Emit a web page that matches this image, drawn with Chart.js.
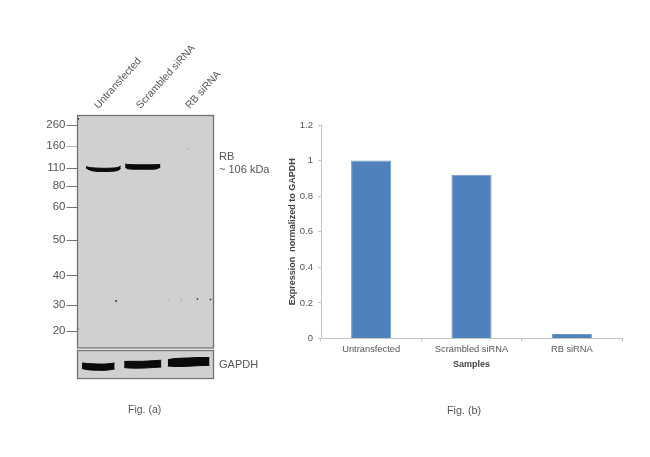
<!DOCTYPE html>
<html>
<head>
<meta charset="utf-8">
<script src="https://cdn.jsdelivr.net/npm/chart.js@4/dist/chart.umd.min.js"></script>
<style>
html,body{margin:0;padding:0;background:#fff;width:650px;height:457px;overflow:hidden;font-family:"Liberation Sans",Arial,sans-serif}
canvas{position:absolute;display:block;filter:blur(0.35px)}
.t{position:absolute;color:#555;white-space:nowrap;line-height:1;filter:blur(0.2px)}
</style>
</head>
<body>
<canvas id="blot" style="left:0;top:0;width:262px;height:352px" width="262" height="352"></canvas>
<canvas id="gapdh" style="left:0;top:349px;width:262px;height:32px" width="262" height="32"></canvas>
<canvas id="bars" style="left:270px;top:100px;width:380px;height:290px" width="380" height="290"></canvas>
<div class="t" style="left:219px;top:151px;font-size:11px">RB</div>
<div class="t" style="left:219px;top:164px;font-size:11px">~ 106 kDa</div>
<div class="t" style="left:219px;top:359px;font-size:11px">GAPDH</div>
<div class="t" style="left:128px;top:404px;font-size:10.5px">Fig. (a)</div>
<div class="t" style="left:447px;top:405px;font-size:10.8px">Fig. (b)</div>
<script>
// Bar chart data
const categories = ["Untransfected", "Scrambled siRNA", "RB siRNA"];
const expression = [1, 0.92, 0.025];

// Blot data: lane position and migration distance (both in the panel's own units)
const laneLabels = ["Untransfected", "Scrambled siRNA", "RB siRNA"];
const laneTicks = [28, 70, 119];
const mwLabels = ["260", "160", "110", "80", "60", "50", "40", "30", "20"];
const mwMigration = [9.5, 30.5, 52.5, 70.5, 91.5, 124.5, 160, 189.5, 215.5];

// RB bands: lane offset, upper edge, lower edge
const rb1X = [8.5, 12, 18, 26, 34, 40, 43];
const rb1Top = [51, 52, 52.5, 52.8, 52.6, 52, 50.5];
const rb1Bot = [52.5, 54.5, 55.8, 56, 55.8, 55, 53];
const rb2X = [47.5, 50, 60, 70, 78, 82.5];
const rb2Top = [48.5, 49, 49.3, 49.3, 49.2, 49];
const rb2Bot = [51.5, 53.3, 53.7, 53.7, 53.5, 51.8];

// Faint and dark specks on the RB membrane
const speckX = [0.8, 38.5, 90.5, 103.5, 119.5, 132.5, 110.5, 0.8];
const speckY = [3.5, 185.5, 184.5, 184, 183.5, 184, 33.5, 213.5];
const speckAlpha = [0.9, 0.9, 0.12, 0.15, 0.7, 0.75, 0.15, 0.25];

// GAPDH bands
const g1X = [4.5, 10, 20, 28, 37];
const g1Top = [12.5, 13, 13.5, 13.5, 12.5];
const g1Bot = [18, 19.2, 19.8, 19.8, 18.5];
const g2X = [46.5, 52, 65, 75, 83.5];
const g2Top = [11, 10.8, 10.8, 10.2, 9.7];
const g2Bot = [17, 17.6, 17.6, 17, 16.5];
const g3X = [90, 97, 110, 120, 131.5];
const g3Top = [9.2, 8, 7.5, 7, 7.2];
const g3Bot = [15.5, 16, 15.8, 15.2, 14.8];

const FONT = '"Liberation Sans", Arial, sans-serif';
const TEXT = '#555';

const panelPlugin = {
  id: 'panel',
  beforeDatasetsDraw(c) {
    const a = c.chartArea, x = c.ctx;
    x.save();
    x.fillStyle = '#d0d0d0';
    x.fillRect(a.left, a.top, a.width, a.height);
    x.restore();
  },
  afterDatasetsDraw(c) {
    const a = c.chartArea, x = c.ctx;
    x.save();
    x.strokeStyle = '#727272';
    x.lineWidth = 1.3;
    x.strokeRect(a.left, a.top, a.width, a.height);
    x.restore();
  }
};

function band(xs, top, bot) {
  const toPts = ys => xs.map((v, i) => ({x: v, y: ys[i]}));
  const common = {showLine: true, borderColor: '#0a0a0a', backgroundColor: '#0a0a0a',
                  borderWidth: 1, pointRadius: 0, tension: 0.35};
  return [
    Object.assign({data: toPts(top), fill: '+1'}, common),
    Object.assign({data: toPts(bot), fill: false}, common)
  ];
}
const noPad = s => { s.paddingTop = 0; s.paddingBottom = 0; s.paddingLeft = 0; s.paddingRight = 0; };

new Chart(document.getElementById('blot'), {
  type: 'scatter',
  data: {datasets: [
    ...band(rb1X, rb1Top, rb1Bot),
    ...band(rb2X, rb2Top, rb2Bot),
    {data: speckX.map((v, i) => ({x: v, y: speckY[i]})), pointRadius: 0.9, borderWidth: 0,
     pointBackgroundColor: speckAlpha.map(al => `rgba(20,20,20,${al})`)}
  ]},
  options: {
    responsive: false, animation: false, events: [],
    layout: {padding: {left: 0, right: 48.5, top: 0, bottom: 1.5}},
    plugins: {legend: {display: false}, tooltip: {enabled: false}},
    scales: {
      x: {
        type: 'linear', position: 'top', min: 0, max: 135.5,
        afterBuildTicks: s => { s.ticks = laneTicks.map(v => ({value: v})); },
        afterFit: s => { s.height = 115.5; noPad(s); },
        border: {display: false},
        grid: {display: false, drawTicks: false},
        ticks: {autoSkip: false, minRotation: 48, maxRotation: 48, padding: 4,
                color: TEXT, font: {family: FONT, size: 10.4},
                callback: v => laneLabels[laneTicks.indexOf(v)]}
      },
      y: {
        type: 'linear', reverse: true, min: 0, max: 232.5,
        afterBuildTicks: s => { s.ticks = mwMigration.map(v => ({value: v})); },
        afterFit: s => { s.width = 77.5; noPad(s); },
        border: {display: false},
        grid: {drawOnChartArea: false, tickLength: 11, tickWidth: 1,
               tickColor: ctx => ctx.index === 1 ? '#b5b5b5' : '#777'},
        ticks: {autoSkip: false, padding: 1, color: TEXT, font: {family: FONT, size: 11.5},
                callback: v => mwLabels[mwMigration.indexOf(v)]}
      }
    }
  },
  plugins: [panelPlugin]
});

new Chart(document.getElementById('gapdh'), {
  type: 'scatter',
  data: {datasets: [...band(g1X, g1Top, g1Bot), ...band(g2X, g2Top, g2Bot), ...band(g3X, g3Top, g3Bot)]},
  options: {
    responsive: false, animation: false, events: [],
    layout: {padding: {left: 77.5, right: 48.5, top: 1.5, bottom: 2.5}},
    plugins: {legend: {display: false}, tooltip: {enabled: false}},
    scales: {
      x: {type: 'linear', display: false, min: 0, max: 135.5},
      y: {type: 'linear', display: false, reverse: true, min: 0, max: 28}
    }
  },
  plugins: [panelPlugin]
});

new Chart(document.getElementById('bars'), {
  type: 'bar',
  data: {labels: categories, datasets: [{
    data: expression, backgroundColor: '#4f81bd', borderColor: '#6d97c8', borderWidth: 1,
    barPercentage: 0.4, categoryPercentage: 1
  }]},
  options: {
    responsive: false, animation: false, events: [],
    layout: {padding: {left: 17.5, right: 28, top: 25, bottom: 20}},
    plugins: {legend: {display: false}, tooltip: {enabled: false}},
    scales: {
      x: {
        afterFit: s => { s.height = 31.5; noPad(s); },
        border: {color: '#c4c4c4'},
        grid: {drawOnChartArea: false, tickLength: 3, tickColor: '#c4c4c4', offset: true},
        ticks: {color: TEXT, padding: 2, maxRotation: 0, font: {family: FONT, size: 9.3}},
        title: {display: true, text: 'Samples', color: '#444', padding: {top: 3, bottom: 0},
                font: {family: FONT, size: 9, weight: 'bold'}}
      },
      y: {
        min: 0, max: 1.2,
        afterFit: s => { s.width = 33.5; noPad(s); },
        border: {color: '#c4c4c4'},
        grid: {drawOnChartArea: false, tickLength: 3, tickColor: '#c4c4c4'},
        ticks: {stepSize: 0.2, color: TEXT, padding: 5, font: {family: FONT, size: 9.5},
                callback: v => String(+v.toFixed(1))},
        title: {display: true, text: 'Expression  normalized to GAPDH', color: '#444',
                padding: {top: 0, bottom: 6}, font: {family: FONT, size: 9, weight: 'bold'}}
      }
    }
  }
});
</script>
</body>
</html>
